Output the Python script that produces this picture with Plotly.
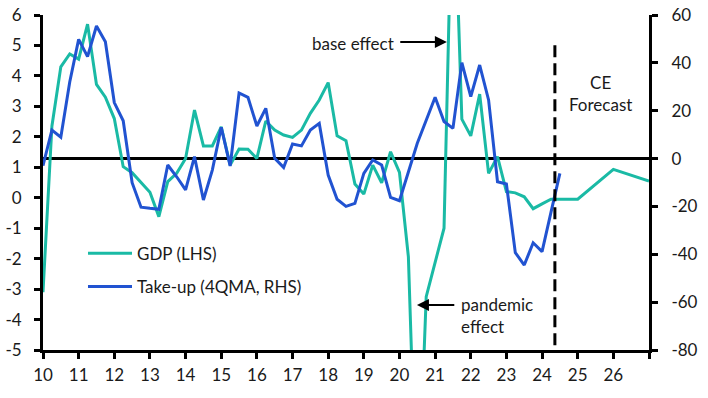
import plotly.graph_objects as go

# ---------------- data ----------------
gdp_x = [10.0, 10.25, 10.5, 10.75, 11.0, 11.25, 11.5, 11.75, 12.0, 12.25, 12.5, 12.75,
         13.0, 13.25, 13.5, 13.75, 14.0, 14.25, 14.5, 14.75, 15.0, 15.25, 15.5, 15.75,
         16.0, 16.25, 16.5, 16.75, 17.0, 17.25, 17.5, 17.75, 18.0, 18.25, 18.5, 18.75,
         19.0, 19.25, 19.5, 19.75, 20.0, 20.25, 20.5, 20.75, 21.0, 21.25, 21.5, 21.75,
         22.0, 22.25, 22.5, 22.75, 23.0, 23.25, 23.5, 23.75, 24.0, 24.25, 24.5, 24.75,
         25.0, 26.0, 27.0]
gdp_y = [-3.1, 2.35, 4.3, 4.72, 4.55, 5.7, 3.72, 3.3, 2.6, 1.02, 0.82, 0.5,
         0.18, -0.62, 0.53, 0.8, 1.29, 2.88, 1.7, 1.7, 2.33, 1.07, 1.6, 1.59,
         1.29, 2.52, 2.22, 2.06, 1.98, 2.22, 2.77, 3.21, 3.78, 2.03, 1.87, 0.45,
         0.12, 1.07, 0.49, 1.51, 0.83, -1.94, -11.0, -3.25, -2.1, -1.0, 11.5, 2.58,
         2.03, 3.4, 0.8, 1.35, 0.2, 0.16, 0.03, -0.36, -0.2, -0.05, -0.05, -0.05,
         -0.05, 0.93, 0.55]

takeup_x = [10.0, 10.25, 10.5, 10.75, 11.0, 11.25, 11.5, 11.75, 12.0, 12.25, 12.5, 12.75,
            13.0, 13.25, 13.5, 13.75, 14.0, 14.25, 14.5, 14.75, 15.0, 15.25, 15.5, 15.75,
            16.0, 16.25, 16.5, 16.75, 17.0, 17.25, 17.5, 17.75, 18.0, 18.25, 18.5, 18.75,
            19.0, 19.25, 19.5, 19.75, 20.0, 20.25, 20.5, 20.75, 21.0, 21.25, 21.5, 21.75,
            22.0, 22.25, 22.5, 22.75, 23.0, 23.25, 23.5, 23.75, 24.0, 24.25, 24.5]
takeup_y = [-3.0, 11.9, 8.9, 32.0, 49.8, 42.6, 55.4, 48.8, 23.4, 15.8, -10.1, -20.3,
            -20.8, -21.2, -2.7, -7.6, -13.1, 0.8, -17.3, -4.8, 13.1, -3.1, 27.4, 25.6,
            13.6, 21.0, 0.1, -3.7, 6.1, 5.3, 11.9, 14.7, -6.9, -17.0, -20.0, -18.7,
            -6.2, -0.6, -2.7, -16.2, -17.6, -5.5, 6.4, 16.0, 25.6, 15.5, 12.6, 40.1,
            25.9, 39.1, 24.5, -9.7, -10.6, -39.3, -44.5, -35.2, -38.9, -22.5, -6.2]

x_ticks = list(range(10, 28))
x_tick_labels = [str(v) for v in range(10, 27)] + [""]
left_ticks = list(range(-5, 7))
left_tick_labels = [str(v) for v in left_ticks]
right_ticks = list(range(-80, 61, 20))
right_tick_labels = [str(v) for v in right_ticks]

forecast_start = 24.36

# ---------------- style ----------------
TEAL = "#1ABAA5"
BLUE = "#2153D1"
FONT = "Lato"
TXT = "#1a1a1a"

fig = go.Figure()
fig.add_trace(go.Scatter(x=gdp_x, y=gdp_y, name="GDP (LHS)", mode="lines",
                         line=dict(color=TEAL, width=3), legendgroup="a"))
fig.add_trace(go.Scatter(x=takeup_x, y=takeup_y, name="Take-up (4QMA, RHS)", mode="lines",
                         line=dict(color=BLUE, width=3), yaxis="y2", legendgroup="b"))

axis_common = dict(showgrid=False, zeroline=False, showline=True, linecolor="black",
                   linewidth=3, ticks="outside", ticklen=6, tickwidth=2.5, tickcolor="black",
                   automargin=False,
                   tickfont=dict(family=FONT, size=17, color=TXT))

fig.update_layout(
    width=708, height=398,
    margin=dict(l=43, r=59, t=15, b=48),
    paper_bgcolor="white", plot_bgcolor="white",
    font=dict(family=FONT, size=17, color=TXT),
    xaxis=dict(range=[10, 27], tickvals=x_ticks, ticktext=x_tick_labels,
               ticklabelstandoff=2, **axis_common),
    yaxis=dict(range=[-5, 6], tickvals=left_ticks, ticktext=left_tick_labels,
               ticklabelstandoff=9, **axis_common),
    yaxis2=dict(range=[-80, 60], tickvals=right_ticks, ticktext=right_tick_labels,
                overlaying="y", side="right", ticklabelstandoff=10, **axis_common),
    showlegend=True,
    legend=dict(x=0.066, y=0.341, xanchor="left", yanchor="top", bgcolor="rgba(0,0,0,0)",
                font=dict(family=FONT, size=17, color=TXT), tracegroupgap=8,
                itemwidth=44),
)

# zero line of RHS
fig.add_shape(type="line", xref="paper", x0=0, x1=1, yref="y2", y0=0, y1=0,
              line=dict(color="black", width=3), layer="below")
# forecast divider
fig.add_shape(type="line", xref="x", x0=forecast_start, x1=forecast_start, yref="y2",
              y0=-78, y1=49.6, line=dict(color="black", width=3, dash="12px,6px"))

# annotations
fig.add_annotation(x=19.9, y=48.3, xref="x", yref="y2", text="base effect",
                   showarrow=False, xanchor="right", yanchor="middle",
                   font=dict(family=FONT, size=17, color=TXT))
fig.add_annotation(x=21.33, y=48.7, xref="x", yref="y2", ax=19.98, ay=48.7,
                   axref="x", ayref="y2", text="", showarrow=True, arrowhead=2,
                   arrowsize=1.2, arrowwidth=2, arrowcolor="black")
fig.add_annotation(x=21.67, y=-65.4, xref="x", yref="y2", text="pandemic<br>effect",
                   showarrow=False, xanchor="left", yanchor="middle", align="left",
                   font=dict(family=FONT, size=17, color=TXT))
fig.add_annotation(x=20.49, y=-61.2, xref="x", yref="y2", ax=21.58, ay=-61.2,
                   axref="x", ayref="y2", text="", showarrow=True, arrowhead=2,
                   arrowsize=1.2, arrowwidth=2, arrowcolor="black")
fig.add_annotation(x=25.65, y=27, xref="x", yref="y2", text="CE<br>Forecast",
                   showarrow=False, xanchor="center", yanchor="middle", align="center",
                   font=dict(family=FONT, size=17, color=TXT))

fig.write_html("out.html", config={"displayModeBar": False},
               post_script="document.body.style.margin='0';")
